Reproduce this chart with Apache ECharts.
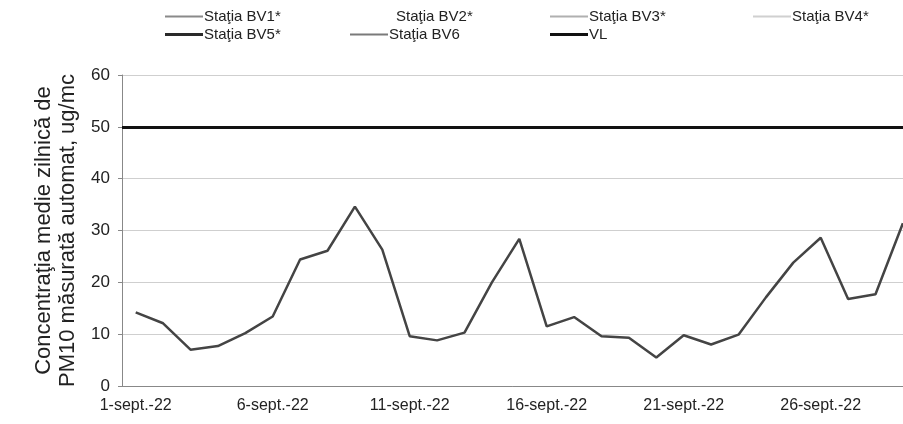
<!DOCTYPE html>
<html>
<head>
<meta charset="utf-8">
<script src="https://cdn.jsdelivr.net/npm/echarts@6/dist/echarts.min.js"></script>
<style>
  html, body { margin: 0; padding: 0; background: #fff; }
  #chart { width: 903px; height: 424px; }
</style>
</head>
<body>
<div id="chart"></div>
<script>
// zilele lunii septembrie 2022
const days = []
for (let d = 1; d <= 30; d++) days.push(d + '-sept.-22')

// valori (ug/mc), ultima zi nu se vede
const bv6 = [14.2, 12.1, 7.0, 7.7, 10.2, 13.4, 24.4, 26.1, 34.6, 26.3,
  9.6, 8.8, 10.3, 20.0, 28.4, 11.5, 13.3, 9.6, 9.3, 5.5,
  9.8, 8.0, 9.9, 17.1, 23.8, 28.6, 16.8, 17.7, 31.4, null]
const vlLimit = 50

const seriesNames = ['Staţia BV1*', 'Staţia BV2*', 'Staţia BV3*', 'Staţia BV4*',
  'Staţia BV5*', 'Staţia BV6', 'VL']
const seriesColors = ['#8a8a8a', '#ffffff', '#b0b0b0', '#d0d0d0', '#2a2a2a', '#7a7a7a', '#111111']

const font = 'Liberation Sans, sans-serif'

const chart = echarts.init(document.getElementById('chart'))

// pozitia fiecarui element din legenda
const legendPos = [
  { left: 160, top: 4 }, { left: 352, top: 4 }, { left: 545, top: 4 }, { left: 748, top: 4 },
  { left: 160, top: 22 }, { left: 345, top: 22 }, { left: 545, top: 22 }
]

const legends = seriesNames.map((name, i) => ({
  data: [name],
  left: legendPos[i].left,
  top: legendPos[i].top,
  icon: 'rect',
  itemWidth: 38,
  itemHeight: i === 6 || i === 4 ? 3 : 2,
  itemGap: 2,
  selectedMode: false,
  textStyle: { fontFamily: font, fontSize: 15, color: '#222', padding: [0, 0, 0, -4] }
}))

const series = seriesNames.map((name, i) => {
  const s = {
    name: name,
    type: 'line',
    data: [],
    symbol: 'none',
    lineStyle: { color: seriesColors[i], width: 2 },
    itemStyle: { color: seriesColors[i] }
  }
  if (name === 'Staţia BV6') {
    s.data = bv6
    s.lineStyle = { color: '#444', width: 2.5 }
  }
  if (name === 'VL') {
    s.markLine = {
      symbol: 'none',
      silent: true,
      label: { show: false },
      lineStyle: { color: '#111', width: 3, type: 'solid' },
      data: [{ yAxis: vlLimit }]
    }
  }
  return s
})

const option = {
  animation: false,
  backgroundColor: '#fff',
  legend: legends,
  grid: { left: 122, top: 75, width: 822, height: 311, outerBoundsMode: 'none', containLabel: false },
  xAxis: {
    type: 'category',
    data: days,
    boundaryGap: true,
    axisLine: { lineStyle: { color: '#888', width: 1 } },
    axisTick: { interval: 4, length: 4, lineStyle: { color: '#888' } },
    axisLabel: {
      interval: 4,
      fontFamily: font,
      fontSize: 16,
      color: '#222',
      margin: 12
    },
    splitLine: { show: false }
  },
  yAxis: {
    type: 'value',
    min: 0,
    max: 60,
    interval: 10,
    name: 'Concentraţia medie zilnică de\nPM10 măsurată automat, ug/mc',
    nameLocation: 'middle',
    nameGap: 36,
    nameTextStyle: { fontFamily: font, fontSize: 22, color: '#222', lineHeight: 24 },
    axisLine: { show: true, lineStyle: { color: '#888' } },
    axisTick: { show: true, length: 4, lineStyle: { color: '#888' } },
    axisLabel: { fontFamily: font, fontSize: 17, color: '#222', margin: 12 },
    splitLine: { lineStyle: { color: '#cfcfcf', width: 1 } }
  },
  series: series
}

chart.setOption(option)
</script>
</body>
</html>
